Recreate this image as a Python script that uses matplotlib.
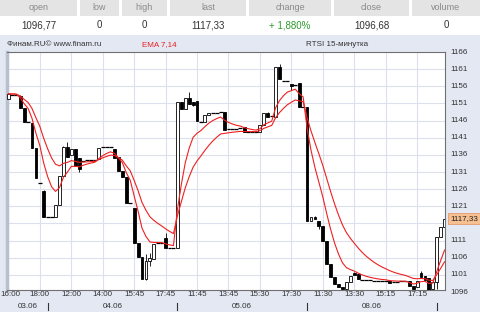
import numpy as np
import pandas as pd
import matplotlib
matplotlib.use('Agg')
import matplotlib.pyplot as plt
from matplotlib.patches import Rectangle
import matplotlib.transforms as mtransforms

# RTSI 15-minute candles, 03.06 16:00 .. 09.06 morning
opens = [1152.4, 1153.6, 1153.4, 1153.3, 1149.6, 1145.5, 1145.3, 1138.0, 1127.8, 1125.5,
         1117.9, 1117.9, 1117.9, 1121.4, 1129.8, 1138.4, 1136.0, 1137.7, 1135.0, 1134.3,
         1134.4, 1134.5, 1134.6, 1134.8, 1138.4, 1138.4, 1138.3, 1137.6, 1135.4, 1131.3,
         1129.5, 1122.0, 1120.5, 1110.3, 1106.2, 1099.8, 1105.0, 1105.6, 1110.4, 1110.4,
         1111.8, 1108.9, 1108.9, 1108.9, 1151.4, 1149.4, 1152.6, 1151.3, 1151.8, 1145.5,
         1145.5, 1147.7, 1148.3, 1148.3, 1148.4, 1148.5, 1143.6, 1143.6, 1143.5, 1143.7,
         1144.1, 1142.7, 1142.7, 1142.7, 1142.7, 1144.8, 1148.2, 1147.3, 1147.0, 1161.6,
         1157.5, 1157.5, 1156.8, 1156.4, 1157.0, 1150.0, 1150.0, 1116.7, 1117.9, 1116.7,
         1115.3, 1110.9, 1104.2, 1100.4, 1098.4, 1097.5, 1096.8, 1098.8, 1101.6, 1101.2,
         1099.5, 1099.4, 1099.4, 1099.3, 1099.2, 1099.2, 1099.3, 1099.3, 1099.0, 1099.0,
         1099.1, 1099.1, 1099.1, 1097.8, 1097.5, 1101.7, 1100.6, 1100.0, 1096.8, 1098.9,
         1112.0, 1115.0]
highs = [1154.0, 1153.6, 1153.4, 1153.4, 1149.6, 1145.5, 1145.3, 1138.0, 1127.8, 1125.8,
         1117.9, 1117.9, 1121.4, 1129.8, 1138.6, 1139.9, 1137.7, 1137.7, 1135.0, 1134.3,
         1134.4, 1134.5, 1134.6, 1138.0, 1138.4, 1138.4, 1138.3, 1137.6, 1135.4, 1131.3,
         1129.5, 1122.0, 1120.5, 1110.3, 1106.2, 1107.0, 1107.3, 1110.0, 1110.4, 1110.4,
         1113.3, 1108.9, 1108.9, 1151.4, 1151.4, 1152.6, 1154.3, 1151.3, 1151.8, 1145.5,
         1147.6, 1148.3, 1148.3, 1148.3, 1148.4, 1148.5, 1143.6, 1143.6, 1143.5, 1143.7,
         1144.1, 1142.7, 1142.7, 1142.7, 1144.8, 1148.2, 1148.6, 1147.3, 1161.6, 1162.5,
         1157.5, 1157.5, 1156.8, 1156.4, 1157.0, 1150.0, 1150.0, 1117.9, 1118.3, 1116.7,
         1115.3, 1110.9, 1104.2, 1100.4, 1098.4, 1097.5, 1098.9, 1100.8, 1101.8, 1101.2,
         1099.5, 1099.4, 1099.4, 1099.3, 1099.2, 1099.2, 1099.3, 1099.3, 1099.0, 1099.0,
         1099.1, 1099.1, 1099.1, 1097.8, 1099.2, 1102.2, 1100.6, 1100.0, 1098.9, 1112.0,
         1115.0, 1117.33]
lows = [1152.2, 1153.6, 1153.4, 1149.7, 1145.7, 1145.5, 1138.0, 1129.3, 1127.8, 1117.9,
        1117.9, 1117.9, 1117.9, 1121.4, 1129.8, 1135.5, 1136.0, 1132.8, 1131.0, 1134.3,
        1134.4, 1134.5, 1134.6, 1134.8, 1138.4, 1138.4, 1138.3, 1135.0, 1131.3, 1129.5,
        1122.0, 1122.0, 1110.3, 1106.2, 1099.8, 1099.5, 1103.5, 1105.6, 1110.4, 1110.4,
        1108.9, 1108.9, 1108.9, 1108.9, 1149.4, 1149.4, 1150.8, 1150.3, 1145.9, 1145.5,
        1145.5, 1147.7, 1148.3, 1148.3, 1148.4, 1143.3, 1143.6, 1143.6, 1143.5, 1143.7,
        1142.6, 1142.7, 1142.7, 1142.7, 1142.7, 1144.8, 1147.0, 1147.3, 1147.0, 1158.1,
        1157.5, 1157.5, 1155.0, 1156.4, 1150.0, 1150.0, 1116.7, 1116.7, 1117.2, 1114.3,
        1110.9, 1104.2, 1100.4, 1098.4, 1097.5, 1096.9, 1096.8, 1098.8, 1100.9, 1099.7,
        1099.5, 1099.4, 1099.4, 1099.3, 1099.2, 1099.2, 1099.3, 1098.6, 1099.0, 1099.0,
        1099.1, 1099.1, 1097.7, 1097.0, 1097.5, 1100.5, 1099.4, 1096.7, 1096.8, 1097.0,
        1112.0, 1115.0]
closes = [1153.8, 1153.6, 1153.4, 1149.7, 1145.7, 1145.5, 1138.0, 1129.3, 1127.8, 1117.9,
          1117.9, 1117.9, 1121.4, 1129.8, 1138.4, 1135.5, 1137.7, 1132.8, 1132.0, 1134.3,
          1134.4, 1134.5, 1134.6, 1138.0, 1138.4, 1138.4, 1138.3, 1135.0, 1131.3, 1129.5,
          1122.0, 1122.0, 1110.3, 1106.2, 1099.8, 1105.0, 1105.8, 1110.0, 1110.4, 1110.4,
          1108.9, 1108.9, 1108.9, 1151.4, 1149.4, 1152.6, 1150.8, 1150.6, 1145.9, 1145.5,
          1147.6, 1148.3, 1148.3, 1148.3, 1148.4, 1143.3, 1143.6, 1143.6, 1143.5, 1143.7,
          1142.6, 1142.7, 1142.7, 1142.7, 1144.8, 1148.2, 1147.0, 1147.3, 1161.6, 1158.1,
          1157.5, 1157.5, 1156.0, 1156.4, 1150.0, 1150.0, 1116.7, 1117.9, 1117.2, 1115.3,
          1110.9, 1104.2, 1100.4, 1098.4, 1097.5, 1096.9, 1098.9, 1100.8, 1100.9, 1099.7,
          1099.5, 1099.4, 1099.4, 1099.3, 1099.2, 1099.2, 1099.3, 1098.6, 1099.0, 1099.0,
          1099.1, 1099.1, 1097.7, 1097.0, 1099.2, 1100.5, 1099.4, 1096.7, 1098.9, 1112.0,
          1115.0, 1117.33]

time_labels = ['16:00', '18:00', '12:00', '14:00', '15:45', '17:45', '11:45',
               '13:45', '15:30', '17:30', '11:30', '13:30', '15:15', '17:15']
date_labels = ['03.06', '04.06', '05.06', '08.06']
day_starts = [0, 10, 43, 76, 109]
y_levels = list(range(1096, 1167, 5))

table_head = ['open', 'low', 'high', 'last', 'change', 'close', 'volume']
table_vals = ['1096,77', '0', '0', '1117,33', '+ 1,880%', '1096,68', '0']

W, H = 480, 312
def fx(px):
    return px / W
def fy(py):
    return 1 - py / H

plt.rcParams['font.family'] = ['Liberation Sans', 'DejaVu Sans']
fig = plt.figure(figsize=(4.8, 3.12), dpi=100)
fig.patch.set_facecolor('#E3E8F3')

# quote table on top
fig.patches.append(Rectangle((0, fy(35)), 1, 35 / H, transform=fig.transFigure,
                             fc='white', ec='none', zorder=0))
cols = [(0, 77), (80, 119), (122, 167), (170, 246), (249, 331), (334, 409), (412, 480)]
for (a, b), hd, vl in zip(cols, table_head, table_vals):
    fig.patches.append(Rectangle((fx(a), fy(15.5)), fx(b) - fx(a), 15.5 / H,
                                 transform=fig.transFigure, fc='#E4E4E4', ec='none', zorder=1))
    cx = fx((a + b) / 2)
    fig.text(cx, fy(8), hd, ha='center', va='center', fontsize=6.5, color='#8a8a8a')
    col = '#2e9a2e' if hd == 'change' else '#333333'
    fig.text(cx, fy(25.5), vl, ha='center', va='center', fontsize=7, color=col)

ax = fig.add_axes([fx(7), fy(290), fx(445) - fx(7), fy(52) - fy(290)])
ax.set_facecolor('white')
n = len(closes)
x = np.arange(n)
ax.set_xlim(-0.36, 111.1)
ax.set_ylim(1096.6, 1166)

tick_idx = [8 * k for k in range(len(time_labels))]
for v in y_levels:
    ax.axhline(v, color='#DCE0EC', lw=0.8, zorder=0)
for t in tick_idx:
    ax.axvline(t, color='#DCE0EC', lw=0.8, zorder=0)

# candles
w = 0.72
for i in range(n):
    o, h, l, c = opens[i], highs[i], lows[i], closes[i]
    ax.vlines(i, l, h, color='black', lw=0.6, zorder=2)
    if abs(c - o) < 0.3:
        ax.hlines(c, i - 0.5, i + 0.5, color='black', lw=0.9, zorder=3)
    else:
        fc = 'white' if c > o else 'black'
        ax.add_patch(Rectangle((i - w / 2, min(o, c)), w, abs(c - o), fc=fc, ec='black',
                               lw=0.6, zorder=3))

s = pd.Series(closes)
ema7 = s.ewm(span=7, adjust=False).mean()
ema14 = s.ewm(span=14, adjust=False).mean()
ax.plot(x, ema7, color='#EE2020', lw=0.8, zorder=4)
ax.plot(x, ema14, color='#EE2020', lw=0.8, zorder=4)

ax.set_xticks([])
ax.set_yticks([])
for sp in ax.spines.values():
    sp.set_color('#707070')
    sp.set_linewidth(0.8)
ax.spines['left'].set_color('#B8C0D0')
ax.spines['left'].set_linewidth(2.5)

trans_y = mtransforms.blended_transform_factory(ax.transAxes, ax.transData)
last = closes[-1]
for v in y_levels:
    if abs(v - last) < 3:
        continue  # hidden behind the last-price marker
    ax.text(1.012, v, str(v), transform=trans_y, ha='left', va='center',
            fontsize=5.8, color='#333333', clip_on=False)
ax.text(1.012, last, ('%.2f' % last).replace('.', ','), transform=trans_y,
        ha='left', va='center', fontsize=5.8, color='#222222', clip_on=False, zorder=6,
        bbox=dict(boxstyle='square,pad=0.25', fc='#F7C090', ec='#E09060', lw=0.5))

trans_x = mtransforms.blended_transform_factory(ax.transData, fig.transFigure)
for k, (t, lab) in enumerate(zip(tick_idx, time_labels)):
    if k == 0:
        fig.text(0.0, fy(295), lab, ha='left', va='center', fontsize=5.8, color='#333333')
    else:
        ax.text(t, fy(295), lab, transform=trans_x, ha='center', va='center',
                fontsize=5.8, color='#333333', clip_on=False)
for d0, d1, lab in zip(day_starts[:-1], day_starts[1:], date_labels):
    ax.text((d0 + d1) / 2, fy(306.5), lab, transform=trans_x, ha='center', va='center',
            fontsize=5.8, color='#333333', clip_on=False)
for d in day_starts[1:]:
    ax.plot([d, d], [fy(303), fy(309.5)], transform=trans_x, color='#333333',
            lw=0.8, clip_on=False)

fig.text(fx(7), fy(45), 'Финам.RU© www.finam.ru', ha='left', va='center',
         fontsize=5.8, color='#333333')
fig.text(fx(159), fy(45), 'EMA 7,14', ha='center', va='center', fontsize=5.8,
         color='#E82020')
fig.text(fx(337), fy(45), 'RTSI 15-минутка', ha='center', va='center', fontsize=5.8,
         color='#333333')

fig.savefig('out.png', dpi=100, facecolor=fig.get_facecolor())
